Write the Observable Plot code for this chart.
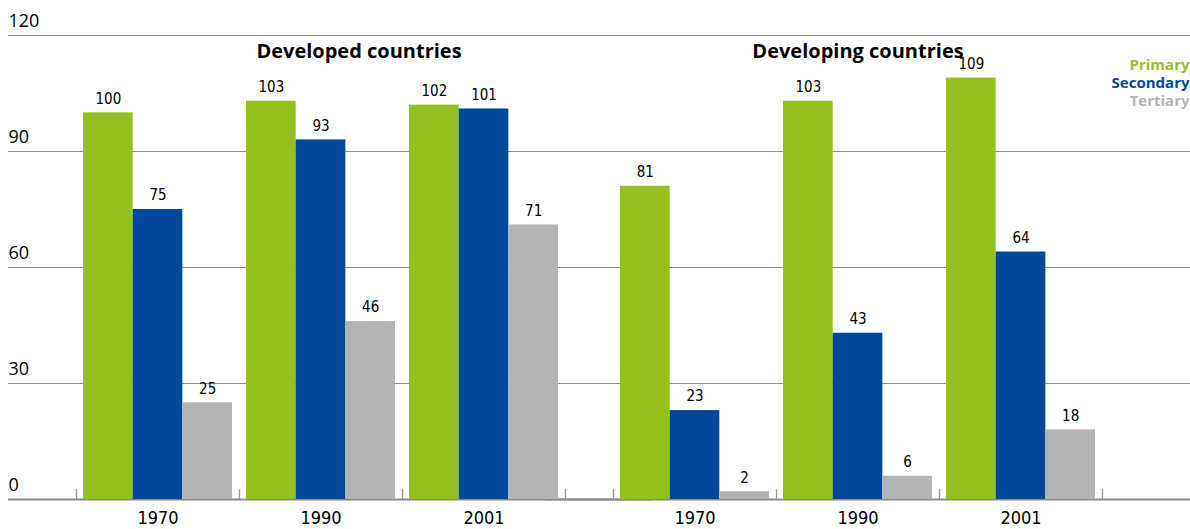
<!DOCTYPE html>
<html>
<head>
<meta charset="utf-8">
<script src="https://cdn.jsdelivr.net/npm/d3@7"></script>
<script src="https://cdn.jsdelivr.net/npm/@observablehq/plot@0.6"></script>
<style>
  html, body { margin: 0; padding: 0; background: #fff; }
  #chart svg { display: block; }
</style>
</head>
<body>
<div id="chart"></div>
<script>
// ---- data ----
const types = ["Developed", "Developing"];
const typeTitles = ["Developed countries", "Developing countries"];
const years = ["1970", "1990", "2001"];
const series = ["Primary", "Secondary", "Tertiary"];
const colors = ["#95c11f", "#004899", "#b2b3b5"];
const developedPrimary   = [100, 103, 102];
const developedSecondary = [75, 93, 101];
const developedTertiary  = [25, 46, 71];
const developingPrimary   = [81, 103, 109];
const developingSecondary = [23, 43, 64];
const developingTertiary  = [2, 6, 18];
const yTicks = [0, 30, 60, 90, 120];

const valuesByType = {
  Developed: [developedPrimary, developedSecondary, developedTertiary],
  Developing: [developingPrimary, developingSecondary, developingTertiary]
};
const rows = [];
types.forEach(t => series.forEach((s, si) => years.forEach((y, yi) =>
  rows.push({type: t, series: s, si, year: y, value: valuesByType[t][si][yi]}))));

// ---- layout ----
const W = 1190, H = 529;
const mL = 76, mR = 88, mT = 35, mB = 30;
const band = 163;          // width of one year group
const pad = 7;             // space at each side of a group
const bw = (band - 2 * pad) / 3;
const condensed = "'Liberation Sans Narrow', 'DejaVu Sans Condensed', sans-serif";
const sans = "'Open Sans', 'Noto Sans', sans-serif";

const boundaries = [];
types.forEach(t => {
  years.forEach(y => boundaries.push({type: t, year: y, side: -1}));
  boundaries.push({type: t, year: years[years.length - 1], side: 1});
});

const marks = [];
// grid lines spanning the full width
marks.push(Plot.ruleY(yTicks.filter(d => d > 0), {y: d => d, stroke: "#8f8f8f", strokeWidth: 1, insetLeft: -68, insetRight: -mR}));
marks.push(Plot.ruleY([0], {y: d => d, stroke: "#8a8a8a", strokeWidth: 1.8, insetLeft: -68, insetRight: -mR}));
// group boundary ticks
marks.push(Plot.ruleX(boundaries.filter(d => d.side < 0), {fx: "type", x: "year", dx: -band / 2, stroke: "#9a9a9a", strokeWidth: 1.3, insetTop: (H - mT - mB) - 10}));
marks.push(Plot.ruleX(boundaries.filter(d => d.side > 0), {fx: "type", x: "year", dx: band / 2, stroke: "#9a9a9a", strokeWidth: 1.3, insetTop: (H - mT - mB) - 10}));
// bars + value labels
series.forEach((s, i) => {
  const d = rows.filter(r => r.series === s);
  marks.push(Plot.barY(d, {
    fx: "type", x: "year", y: "value", fill: colors[i],
    insetLeft: pad + i * bw, insetRight: band - pad - (i + 1) * bw
  }));
  marks.push(Plot.text(d, {
    fx: "type", x: "year", y: "value", text: r => String(r.value),
    dx: pad + (i + 0.5) * bw - band / 2, dy: -14,
    fontSize: 15, fontFamily: condensed, fill: "#000"
  }));
});
// facet titles
const titleDx = [38, 0];
types.forEach((t, i) => {
  marks.push(Plot.text([{type: t, label: typeTitles[i]}], {
    fx: "type", text: "label", frameAnchor: "top", dx: titleDx[i], dy: 8,
    fontSize: 20, fontWeight: "bold", fontFamily: sans, fill: "#000"
  }));
});
// legend (top right)
series.forEach((s, i) => {
  marks.push(Plot.text([{type: "Developing", label: s}], {
    fx: "type", text: "label", frameAnchor: "top-right", textAnchor: "end",
    dx: mR - 1, dy: 24 + i * 18,
    fontSize: 15, fontWeight: "bold", fontFamily: sans, fill: colors[i]
  }));
});
// axes
marks.push(Plot.axisY({ticks: yTicks, tickSize: 0, tickPadding: 0, textAnchor: "start", dx: -68, dy: -14, fontSize: 18, fontFamily: sans, fill: "#000", label: null}));
marks.push(Plot.axisX({tickSize: 0, tickPadding: 12, fontSize: 18, fontFamily: condensed, fill: "#000", label: null}));

const chart = Plot.plot({
  width: W, height: H,
  marginLeft: mL, marginRight: mR, marginTop: mT, marginBottom: mB,
  style: {fontFamily: sans, background: "#fff", overflow: "visible"},
  fx: {domain: types, padding: 48 / (band * 3 + 48), axis: null, label: null},
  x: {domain: years, padding: 0, axis: null},
  y: {domain: [0, 120], axis: null},
  marks
});
document.getElementById("chart").appendChild(chart);
</script>
</body>
</html>
